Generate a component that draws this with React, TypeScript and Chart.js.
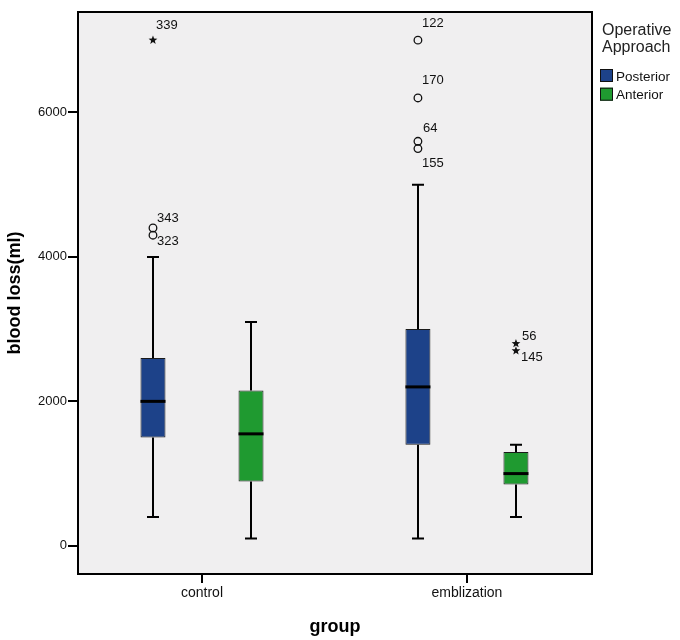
import React, { useEffect, useRef } from 'react';
import { Chart, registerables } from 'chart.js';

Chart.register(...registerables);

// ---------- data ----------
const groups = ['control', 'emblization'];
const seriesNames = ['Posterior', 'Anterior'];

const posteriorMin = [400, 100];
const posteriorQ1 = [1500, 1400];
const posteriorMedian = [2000, 2200];
const posteriorQ3 = [2600, 3000];
const posteriorMax = [4000, 5000];

const anteriorMin = [100, 400];
const anteriorQ1 = [890, 850];
const anteriorMedian = [1550, 1000];
const anteriorQ3 = [2150, 1300];
const anteriorMax = [3100, 1400];

const yTicks = [0, 2000, 4000, 6000];

// outliers
const outlierGroup = [0, 0, 0, 1, 1, 1, 1, 1, 1];
const outlierSeries = [0, 0, 0, 0, 0, 0, 0, 1, 1];
const outlierValues = [7000, 4400, 4300, 7000, 6200, 5600, 5500, 2800, 2700];
const outlierIds = ['339', '343', '323', '122', '170', '64', '155', '56', '145'];
const outlierExtreme = [true, false, false, false, false, false, false, true, true];

// ---------- layout / style ----------
const labelDx = [3, 4, 4, 4, 4, 5, 4, 6, 5];
const labelDy = [-15, -10, 6, -17, -18, -13, 15, -7, 7];
const seriesColors = ['#1d4289', '#1f9a30'];
const FONT = "'Liberation Sans', Arial, sans-serif";

const stats = [
  { min: posteriorMin, q1: posteriorQ1, med: posteriorMedian, q3: posteriorQ3, max: posteriorMax },
  { min: anteriorMin, q1: anteriorQ1, med: anteriorMedian, q3: anteriorQ3, max: anteriorMax },
];

function drawStar(ctx: CanvasRenderingContext2D, x: number, y: number, r: number) {
  ctx.beginPath();
  for (let k = 0; k < 10; k++) {
    const rad = k % 2 === 0 ? r : r * 0.42;
    const ang = -Math.PI / 2 + (k * Math.PI) / 5;
    const px = x + rad * Math.cos(ang);
    const py = y + rad * Math.sin(ang);
    if (k === 0) ctx.moveTo(px, py);
    else ctx.lineTo(px, py);
  }
  ctx.closePath();
  ctx.fill();
}

const boxPlugin = {
  id: 'boxplotExtras',
  beforeDraw(chart: any) {
    const { ctx, chartArea: a } = chart;
    ctx.save();
    ctx.fillStyle = '#ffffff';
    ctx.fillRect(0, 0, chart.width, chart.height);
    ctx.fillStyle = '#f0eff0';
    ctx.fillRect(a.left, a.top, a.right - a.left, a.bottom - a.top);
    ctx.restore();
  },
  beforeDatasetsDraw(chart: any) {
    const { ctx } = chart;
    const ys = chart.scales.y;
    ctx.save();
    ctx.strokeStyle = '#000';
    ctx.lineWidth = 2;
    stats.forEach((s, di) => {
      const meta = chart.getDatasetMeta(di);
      meta.data.forEach((bar: any, i: number) => {
        const x = Math.round(bar.x);
        const cap = 6;
        const yMin = ys.getPixelForValue(s.min[i]);
        const yQ1 = ys.getPixelForValue(s.q1[i]);
        const yQ3 = ys.getPixelForValue(s.q3[i]);
        const yMax = ys.getPixelForValue(s.max[i]);
        ctx.beginPath();
        ctx.moveTo(x, yMin);
        ctx.lineTo(x, yQ1);
        ctx.moveTo(x, yQ3);
        ctx.lineTo(x, yMax);
        ctx.moveTo(x - cap, yMin);
        ctx.lineTo(x + cap, yMin);
        ctx.moveTo(x - cap, yMax);
        ctx.lineTo(x + cap, yMax);
        ctx.stroke();
      });
    });
    ctx.restore();
  },
  afterDatasetsDraw(chart: any) {
    const { ctx } = chart;
    const ys = chart.scales.y;
    ctx.save();
    // medians
    ctx.strokeStyle = '#000';
    ctx.lineWidth = 3;
    stats.forEach((s, di) => {
      const meta = chart.getDatasetMeta(di);
      meta.data.forEach((bar: any, i: number) => {
        const half = bar.width / 2;
        const y = ys.getPixelForValue(s.med[i]);
        ctx.beginPath();
        ctx.moveTo(bar.x - half, y);
        ctx.lineTo(bar.x + half, y);
        ctx.stroke();
      });
    });
    // outliers
    ctx.font = `13px ${FONT}`;
    ctx.textAlign = 'left';
    ctx.textBaseline = 'middle';
    outlierValues.forEach((v, k) => {
      const bar: any = chart.getDatasetMeta(outlierSeries[k]).data[outlierGroup[k]];
      const x = bar.x;
      const y = ys.getPixelForValue(v);
      ctx.fillStyle = '#111';
      ctx.strokeStyle = '#111';
      if (outlierExtreme[k]) {
        drawStar(ctx, x, y, 4.6);
      } else {
        ctx.lineWidth = 1.3;
        ctx.beginPath();
        ctx.arc(x, y, 3.8, 0, Math.PI * 2);
        ctx.stroke();
      }
      ctx.fillStyle = '#111';
      ctx.fillText(outlierIds[k], x + labelDx[k], y + labelDy[k]);
    });
    ctx.restore();
  },
  afterDraw(chart: any) {
    const { ctx, chartArea: a } = chart;
    ctx.save();
    ctx.strokeStyle = '#000';
    ctx.lineWidth = 2;
    ctx.strokeRect(a.left, a.top, a.right - a.left, a.bottom - a.top);

    // legend
    const lx = a.right + 8;
    ctx.fillStyle = '#222';
    ctx.font = `16px ${FONT}`;
    ctx.textAlign = 'left';
    ctx.textBaseline = 'middle';
    ctx.fillText('Operative', lx + 2, 31);
    ctx.fillText('Approach', lx + 2, 48);
    ctx.font = `13.5px ${FONT}`;
    seriesNames.forEach((name, i) => {
      const top = 69 + i * 18.7;
      ctx.fillStyle = seriesColors[i];
      ctx.fillRect(lx, top, 13, 13);
      ctx.lineWidth = 1;
      ctx.strokeStyle = '#111';
      ctx.strokeRect(lx + 0.5, top + 0.5, 12, 12);
      ctx.fillStyle = '#111';
      ctx.fillText(name, lx + 16, top + 8);
    });
    ctx.restore();
  },
};

export default function App() {
  const canvasRef = useRef<HTMLCanvasElement | null>(null);

  useEffect(() => {
    if (!canvasRef.current) return;
    const chart = new Chart(canvasRef.current, {
      type: 'bar',
      data: {
        datasets: stats.map((s, di) => ({
          label: seriesNames[di],
          data: groups.map((_, i) => ({ x: i, y: [s.q1[i], s.q3[i]] })) as any,
          backgroundColor: seriesColors[di],
          borderColor: '#1a1a1a',
          borderWidth: 1,
          borderSkipped: false,
          categoryPercentage: 0.74,
          barPercentage: 0.255,
        })),
      },
      options: {
        animation: false,
        responsive: false,
        events: [],
        layout: { padding: { top: 12, right: 88, left: 0, bottom: 0 } },
        plugins: {
          legend: { display: false },
          tooltip: { enabled: false },
        },
        scales: {
          x: {
            type: 'linear',
            offset: false,
            min: -0.468,
            max: 1.472,
            afterBuildTicks: (axis: any) => {
              axis.ticks = groups.map((_, i) => ({ value: i }));
            },
            afterFit: (axis: any) => {
              axis.height = 66;
            },
            ticks: {
              callback: (v: any) => groups[v] ?? '',
              font: { family: FONT, size: 14 },
              color: '#111',
              padding: 2,
              maxRotation: 0,
              autoSkip: false,
            },
            grid: {
              display: true,
              offset: false,
              drawOnChartArea: false,
              drawTicks: true,
              tickLength: 9,
              color: '#000',
              lineWidth: 2,
            },
            border: { display: false },
            title: {
              display: true,
              text: 'group',
              font: { family: FONT, size: 18, weight: 'bold' },
              color: '#000',
              padding: { top: 0, bottom: 2 },
            },
          },
          y: {
            type: 'linear',
            min: -390,
            max: 7390,
            afterBuildTicks: (axis: any) => {
              axis.ticks = yTicks.map((v) => ({ value: v }));
            },
            afterFit: (axis: any) => {
              axis.width = 78;
            },
            ticks: {
              callback: (v: any) => String(v),
              font: { family: FONT, size: 13 },
              color: '#111',
              padding: 1,
              autoSkip: false,
            },
            grid: {
              display: true,
              drawOnChartArea: false,
              drawTicks: true,
              tickLength: 10,
              color: '#000',
              lineWidth: 2,
            },
            border: { display: false },
            title: {
              display: true,
              text: 'blood loss(ml)',
              font: { family: FONT, size: 18, weight: 'bold' },
              color: '#000',
              padding: { top: 4, bottom: 0 },
            },
          },
        },
      } as any,
      plugins: [boxPlugin],
    });
    return () => chart.destroy();
  }, []);

  return (
    <div style={{ position: 'absolute', left: 0, top: 0, width: 680, height: 640, background: '#fff' }}>
      <canvas ref={canvasRef} width={680} height={640} />
    </div>
  );
}
